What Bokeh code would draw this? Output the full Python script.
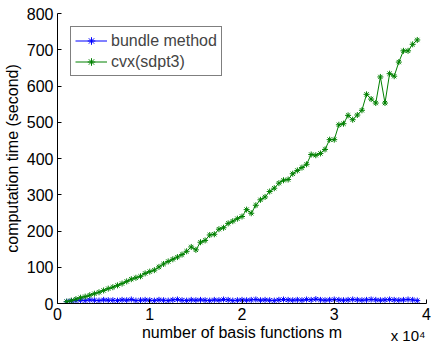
from bokeh.plotting import figure
from bokeh.models import FixedTicker, Legend, LegendItem, Range1d, LinearAxis
from bokeh.embed import file_html
from bokeh.resources import INLINE

# number of basis functions m
m_values = [1000, 1500, 2000, 2500, 3000, 3500, 4000, 4500, 5000,
            5500, 6000, 6500, 7000, 7500, 8000, 8500, 9000, 9500, 10000,
            10500, 11000, 11500, 12000, 12500, 13000, 13500, 14000, 14500, 15000,
            15500, 16000, 16500, 17000, 17500, 18000, 18500, 19000, 19500, 20000,
            20500, 21000, 21500, 22000, 22500, 23000, 23500, 24000, 24500, 25000,
            25500, 26000, 26500, 27000, 27500, 28000, 28500, 29000, 29500, 30000,
            30500, 31000, 31500, 32000, 32500, 33000, 33500, 34000, 34500, 35000,
            35500, 36000, 36500, 37000, 37500, 38000, 38500, 39000]

# computation time (second)
bundle_time = [5, 7, 8, 9, 8, 10, 9, 8, 10,
               9, 9, 8, 10, 9, 11, 8, 9, 10, 9,
               8, 10, 9, 8, 10, 11, 9, 8, 10, 9,
               10, 9, 8, 10, 9, 11, 10, 8, 9, 10,
               9, 10, 11, 9, 10, 9, 8, 10, 11, 10,
               9, 10, 9, 11, 10, 12, 10, 9, 10, 11,
               10, 9, 10, 11, 10, 9, 10, 11, 10, 9,
               10, 11, 10, 9, 10, 11, 10, 8]

cvx_time = [5, 8, 12, 16, 19, 23, 27, 31, 36,
            41, 45, 50, 55, 61, 67, 71, 75, 83, 88,
            92, 101, 109, 116, 122, 128, 135, 144, 156, 148,
            169, 174, 189, 191, 205, 209, 221, 227, 234, 240,
            259, 249, 271, 286, 294, 309, 318, 332, 340, 342,
            358, 367, 375, 384, 411, 409, 414, 425, 452, 452,
            493, 496, 519, 507, 520, 533, 577, 564, 553, 625,
            553, 634, 627, 666, 697, 697, 715, 727]

x_ticks = [0, 10000, 20000, 30000, 40000]
x_tick_labels = ["0", "1", "2", "3", "4"]
y_ticks = [0, 100, 200, 300, 400, 500, 600, 700, 800]
x_scale_pos = 38000
x_scale_text = "x 10\u2074"

FONT = "Liberation Sans"

p = figure(width=431, height=347, output_backend="svg", toolbar_location=None,
           x_range=Range1d(0, 40000), y_range=Range1d(0, 800),
           min_border_left=57, min_border_right=5, min_border_top=13, min_border_bottom=44)
p.outline_line_color = None
p.grid.visible = False

for ax in (p.xaxis[0], p.yaxis[0]):
    ax.major_tick_in = 4
    ax.major_tick_out = 0
    ax.minor_tick_line_color = None
    ax.axis_line_color = "black"
    ax.major_tick_line_color = "black"
    ax.major_label_text_font = FONT
    ax.major_label_text_font_size = "16px"
    ax.major_label_text_color = "black"
    ax.axis_label_text_font = FONT
    ax.axis_label_text_font_size = "16px"
    ax.axis_label_text_font_style = "normal"
    ax.axis_label_text_color = "black"

p.xaxis[0].ticker = FixedTicker(ticks=x_ticks)
p.xaxis[0].major_label_overrides = {t: l for t, l in zip(x_ticks, x_tick_labels)}
p.xaxis[0].axis_label = "number of basis functions m"
p.xaxis[0].major_label_standoff = 4
p.xaxis[0].axis_label_standoff = 1
p.yaxis[0].ticker = FixedTicker(ticks=y_ticks)
p.yaxis[0].axis_label = "computation time (second)"
p.yaxis[0].major_label_standoff = 4
p.yaxis[0].axis_label_standoff = 3

scale_axis = LinearAxis(ticker=FixedTicker(ticks=[x_scale_pos]),
                        major_label_overrides={x_scale_pos: x_scale_text},
                        axis_line_color=None, major_tick_line_color=None,
                        minor_tick_line_color=None, major_tick_in=0, major_tick_out=0,
                        major_label_standoff=-17,
                        major_label_text_font=FONT, major_label_text_font_size="15px",
                        major_label_text_color="black")
p.add_layout(scale_axis, "below")

l1 = p.line(m_values, bundle_time, line_color="#0000ff", line_width=1)
s1 = p.scatter(m_values, bundle_time, marker="asterisk", size=6, line_color="#0000ff", line_width=1)
l2 = p.line(m_values, cvx_time, line_color="#008000", line_width=1)
s2 = p.scatter(m_values, cvx_time, marker="asterisk", size=6, line_color="#008000", line_width=1)

legend = Legend(items=[LegendItem(label="bundle method", renderers=[l1, s1]),
                       LegendItem(label="cvx(sdpt3)", renderers=[l2, s2])],
                location="top_left", margin=13, padding=4, spacing=2,
                label_height=19, glyph_height=19, glyph_width=32, label_standoff=4,
                label_text_font=FONT, label_text_font_size="16px",
                border_line_color="black", border_line_width=1,
                background_fill_alpha=1)
p.add_layout(legend, "center")

open("out.html", "w").write(file_html(p, INLINE))
